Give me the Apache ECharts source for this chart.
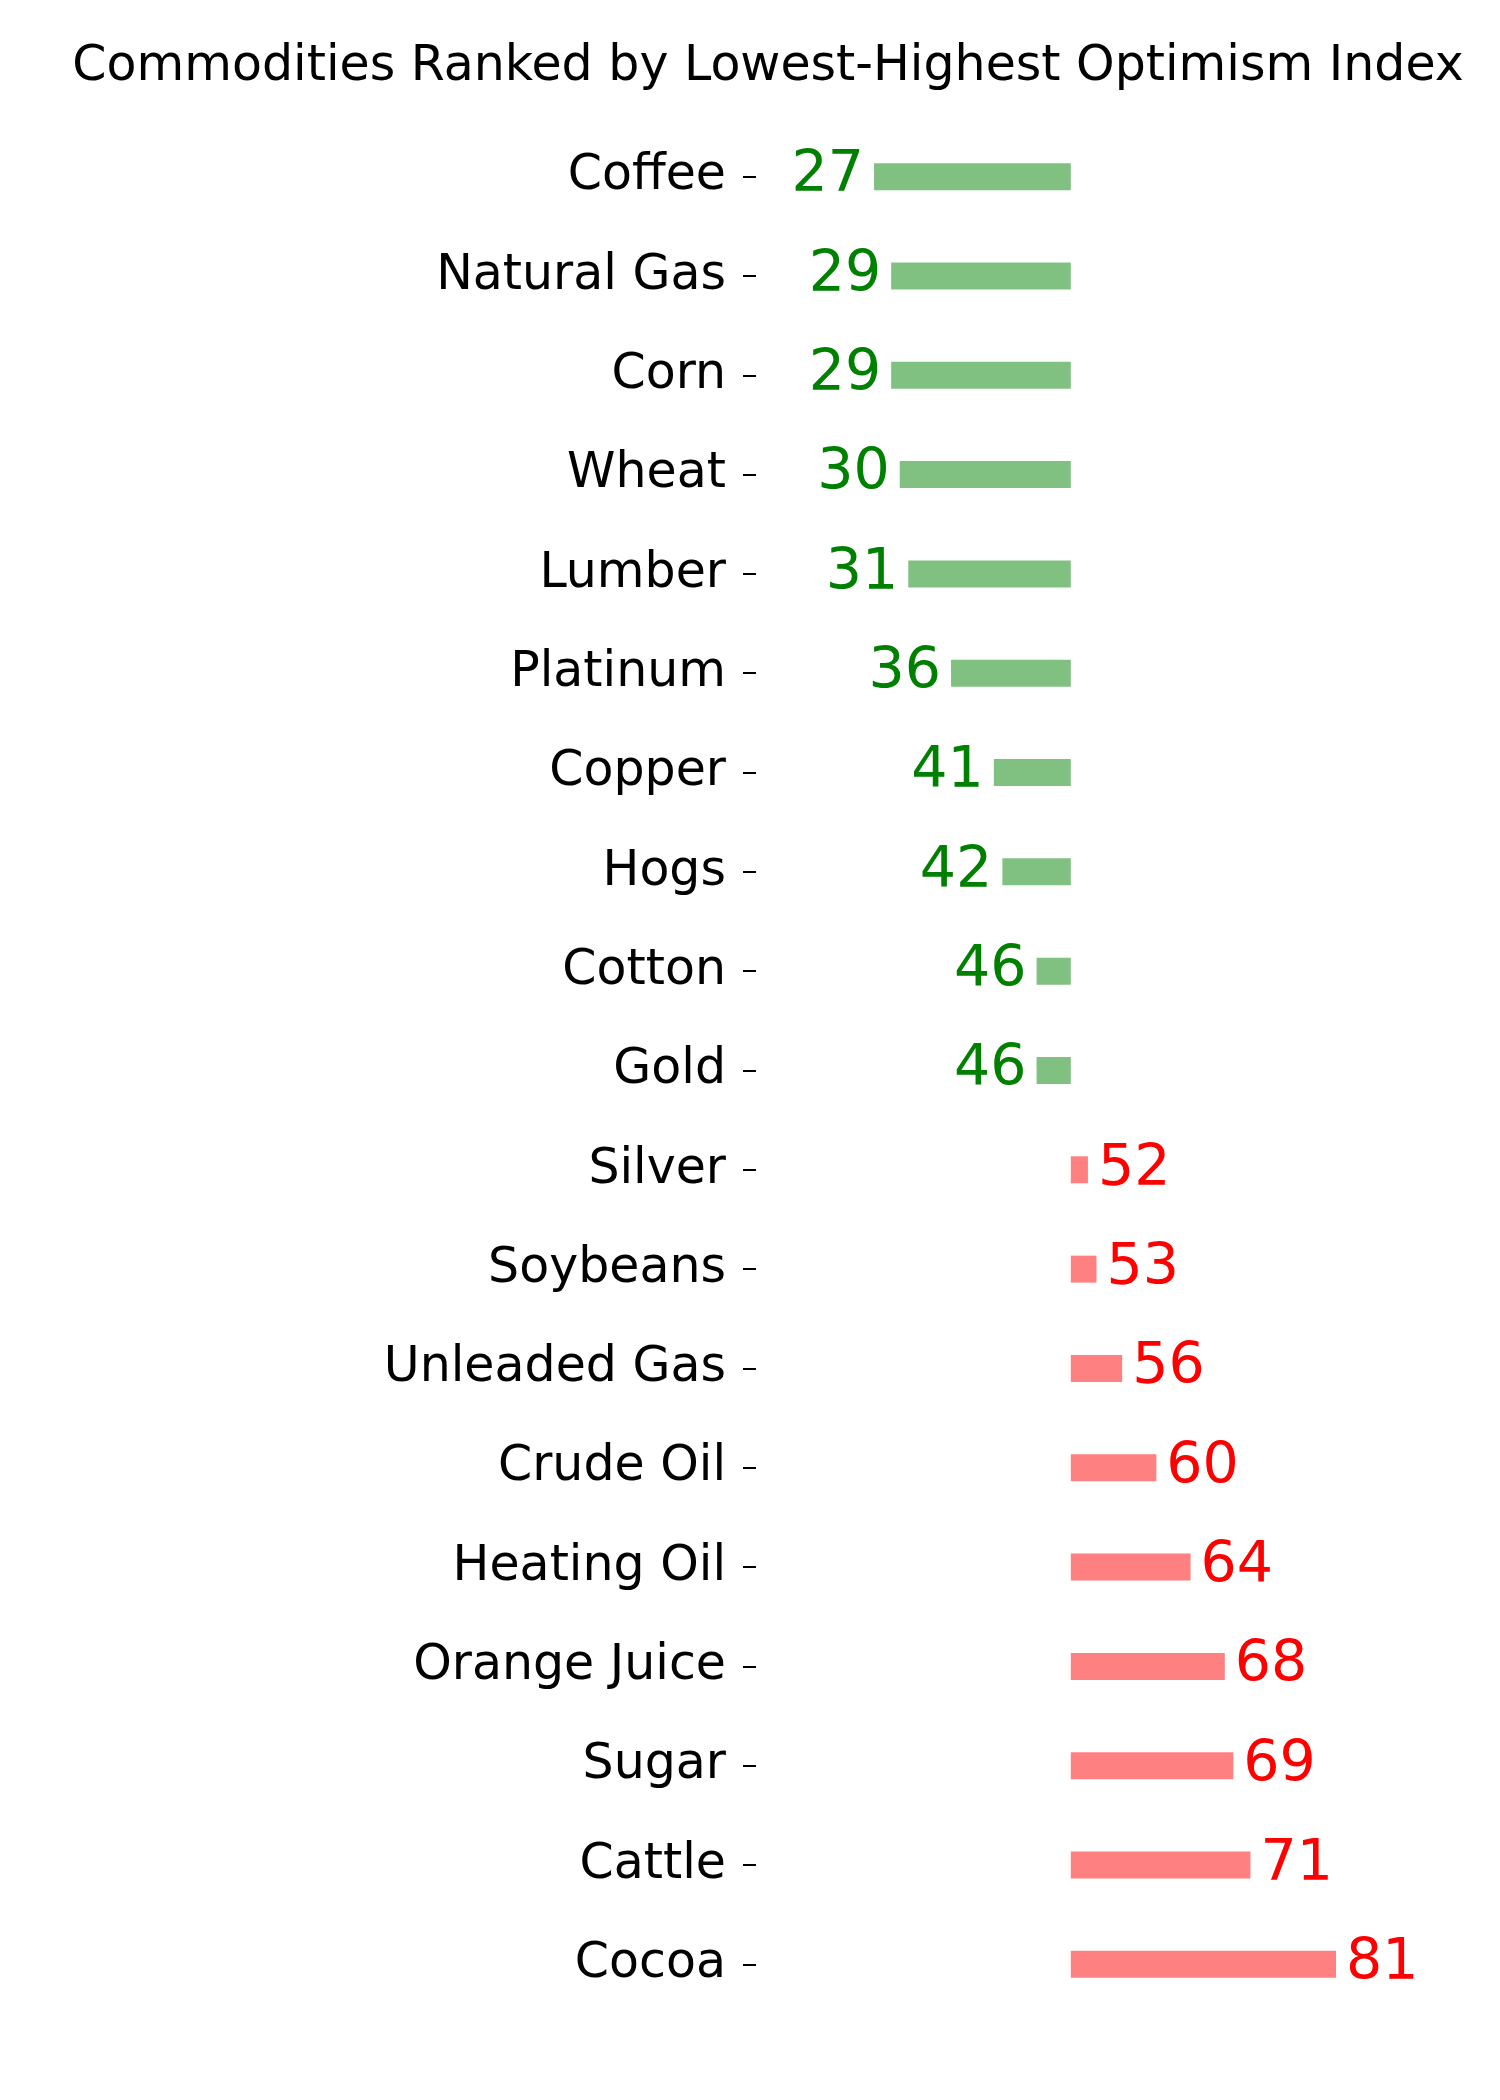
<!DOCTYPE html>
<html>
<head>
<meta charset="utf-8">
<script src="https://cdn.jsdelivr.net/npm/echarts@6/dist/echarts.min.js"></script>
<style>html,body{margin:0;background:#fff}#main{width:1500px;height:2100px}</style>
</head>
<body>
<div id="main"></div>
<script>
// 数据
var commodities = ['Coffee', 'Natural Gas', 'Corn', 'Wheat', 'Lumber', 'Platinum', 'Copper', 'Hogs', 'Cotton', 'Gold',
	'Silver', 'Soybeans', 'Unleaded Gas', 'Crude Oil', 'Heating Oil', 'Orange Juice', 'Sugar', 'Cattle', 'Cocoa'];
var optimism = [27, 29, 29, 30, 31, 36, 41, 42, 46, 46, 52, 53, 56, 60, 64, 68, 69, 71, 81];
var midpoint = 50;

var baseData = optimism.map(function (v) { return Math.min(v, midpoint); });
var lowData = optimism.map(function (v) { return v < midpoint ? midpoint - v : '-'; });
var highData = optimism.map(function (v) { return v > midpoint ? v - midpoint : '-'; });

var myChart = echarts.init(document.getElementById('main'));
var font = 'DejaVu Sans';
option = {
	animation: false,
	textStyle: { fontFamily: font },
	title: {
		text: 'Commodities Ranked by Lowest-Highest Optimism Index',
		left: 763,
		textAlign: 'center',
		top: 38,
		textStyle: { fontFamily: font, fontSize: 49, fontWeight: 'normal', color: '#000' }
	},
	grid: { left: 756, right: 87, top: 127, bottom: 86 },
	xAxis: {
		type: 'value',
		min: 13.2,
		max: 90,
		show: false
	},
	yAxis: {
		type: 'category',
		inverse: true,
		data: commodities,
		axisLine: { show: false },
		axisTick: { show: true, alignWithLabel: true, length: 13, lineStyle: { color: '#000', width: 2 } },
		axisLabel: { color: '#000', fontSize: 49, margin: 30, fontFamily: font },
		splitLine: { show: false }
	},
	series: [{
		type: 'bar',
		stack: 'a',
		barWidth: 27,
		data: baseData,
		itemStyle: { color: 'transparent' },
		silent: true
	}, {
		type: 'bar',
		stack: 'a',
		barWidth: 27,
		data: lowData,
		itemStyle: { color: '#80c080' },
		label: {
			show: true,
			position: 'left',
			distance: 10,
			color: '#008000',
			fontSize: 57,
			fontFamily: font,
			formatter: function (p) { return optimism[p.dataIndex]; }
		}
	}, {
		type: 'bar',
		stack: 'a',
		barWidth: 27,
		data: highData,
		itemStyle: { color: '#ff8080' },
		label: {
			show: true,
			position: 'right',
			distance: 10,
			color: '#ff0000',
			fontSize: 57,
			fontFamily: font,
			formatter: function (p) { return optimism[p.dataIndex]; }
		}
	}]
};
myChart.setOption(option);
</script>
</body>
</html>
